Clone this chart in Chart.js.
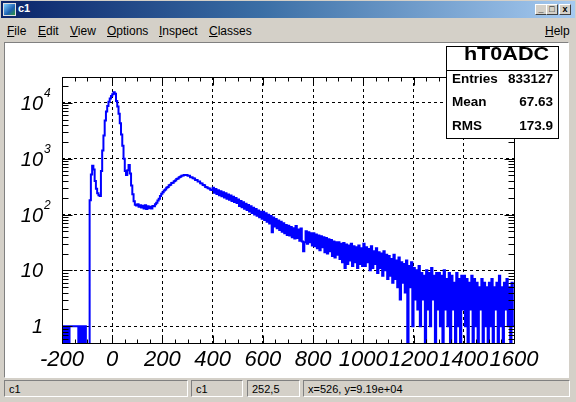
<!DOCTYPE html>
<html><head><meta charset="utf-8">
<script src="https://cdn.jsdelivr.net/npm/chart.js@4.4.0/dist/chart.umd.min.js"></script>
<style>
html,body{margin:0;padding:0;}
body{width:576px;height:402px;background:#d4d0c8;position:relative;overflow:hidden;font-family:'Liberation Sans',Arial,sans-serif;}
.abs{position:absolute;}
#titlebar{left:1px;top:1px;width:574px;height:17px;background:linear-gradient(to right,#0a246a 0%,#3a6ea5 45%,#a6caf0 100%);}
#icon{left:3px;top:3px;width:11px;height:11px;background:linear-gradient(135deg,#7fd0ff,#1c5fb0 60%,#2f9a3a);border:1px solid #e0e0e0;}
#ttext{left:18px;top:3px;color:#fff;font-weight:bold;font-size:11px;line-height:11px;}
.btn{top:4px;width:10px;height:9px;background:#d4d0c8;border-top:1px solid #fff;border-left:1px solid #fff;border-right:1px solid #404040;border-bottom:1px solid #404040;font-size:9px;line-height:9px;text-align:center;font-weight:bold;color:#000;}
.menu{top:25px;font-size:12px;line-height:12px;color:#000;}
#white{left:4px;top:42px;width:563px;height:334px;background:#fff;border-top:1px solid #808080;border-left:1px solid #808080;border-right:1px solid #fff;border-bottom:1px solid #fff;}
.sf{top:380px;height:17px;border-top:1px solid #808080;border-left:1px solid #808080;border-right:1px solid #fff;border-bottom:1px solid #fff;font-size:11px;line-height:17px;padding-left:4px;box-sizing:border-box;color:#000;}
#c{position:absolute;left:0;top:0;}
#stats{left:446px;top:46px;width:111px;height:91px;background:#fff;border:1px solid #000;}
#stats .sep{position:absolute;left:0;top:23px;width:111px;height:1px;background:#000;}
.st{font-weight:bold;font-size:13.5px;line-height:13.5px;color:#000;}
</style>
</head><body>
<div id="titlebar" class="abs"></div>
<div id="icon" class="abs"></div>
<div id="ttext" class="abs">c1</div>
<div class="abs btn" style="left:535px;">_</div>
<div class="abs btn" style="left:546px;">&#9633;</div>
<div class="abs btn" style="left:559px;">x</div>
<div class="abs menu" style="left:7px;"><u>F</u>ile</div>
<div class="abs menu" style="left:38px;"><u>E</u>dit</div>
<div class="abs menu" style="left:70px;"><u>V</u>iew</div>
<div class="abs menu" style="left:107px;"><u>O</u>ptions</div>
<div class="abs menu" style="left:159px;"><u>I</u>nspect</div>
<div class="abs menu" style="left:209px;"><u>C</u>lasses</div>
<div class="abs menu" style="left:545px;"><u>H</u>elp</div>
<div id="white" class="abs"></div>
<div class="abs sf" style="left:4px;width:184px;" id="sf1"></div>
<div class="abs sf" style="left:191px;width:52px;" id="sf2"></div>
<div class="abs sf" style="left:247px;width:53px;" id="sf3"></div>
<div class="abs sf" style="left:303px;width:267px;" id="sf4"></div>
<canvas id="c" width="576" height="402"></canvas>
<div id="stats" class="abs"><div class="sep"></div></div>
<div class="abs" id="stitle" style="left:446px;top:45px;width:120px;text-align:center;font-weight:bold;font-size:18px;line-height:18px;"><span style="display:inline-block;transform:scaleX(1.2);"></span></div>
<script>
// ---- data ----
const xMin = -200, xMax = 1600, binWidth = 5;
const yMin = 0.5, yMax = 29000;
const xTicks = [-200, 0, 200, 400, 600, 800, 1000, 1200, 1400, 1600];
const xTickLabels = ['-200', '0', '200', '400', '600', '800', '1000', '1200', '1400', '1600'];
const yTicks = [1, 10, 100, 1000, 10000];
const statsTitle = 'hT0ADC';
const statsNames = ['Entries', 'Mean', 'RMS'];
const statsValues = ['833127', '67.63', '173.9'];
const statusFields = ['c1', 'c1', '252,5', 'x=526, y=9.19e+04'];

// counts per 5-unit bin, starting at -200
const countsNeg = [1,0,1,0,1,0,1,1,1,1,1,1,1,0,1,0,1,0,1,0,0,0,
  180,520,750,640,400,290,240,222,215,600,1400,2600,4800,7000,8800,10500,12000,13200];
const countsPeak = [14300,15400,14500,10800,8600,6400,4300,2700,1700,1000,600,510,620,770,540,330,230,172,150,145,
  152,138,147,133,144,128,146,126,141,130,137,128,142,140,152,162,178,192,214,236];
const countsHump = [250,268,279,300,312,333,341,368,372,394,405,431,441,466,476,496,502,510,512,508,
  494,492,467,466,446,442,417,414,390,389,363,360,337,334,312,309,294,291,278,276];
const countsTail1 = [300,245,285,232,272,222,262,212,250,202,240,192,228,183,218,175,208,167,198,160,
  185,142,175,135,166,127,156,120,148,113,140,106,132,100,125,95,118,89,112,84,
  112,80,105,74,99,69,94,48,88,61,83,57,78,53,74,49,70,46,65,43,
  63,42,60,39,57,37,62,38,54,34,56,33,22,32,50,30,48,32,46,28];
const countsTail2 = [46,27,44,25,42,23,41,26,39,21,38,20,36,22,35,18,33,17,32,19,
  32,16,30,14,31,11,29,13,28,15,30,12,27,14,26,11,28,13,25,12,
  30,12,26,14,24,10,27,11,22,13,25,9,21,11,20,8,22,10,19,7,
  18,8,16,6,19,7,15,5,17,3,14,6,13,4,15,0,12,5,14,1];
const countsTail3 = [11,3,10,2,12,1,9,3,8,0,10,2,9,1,11,3,8,0,9,2,
  9,1,8,0,10,2,7,1,9,0,8,2,6,0,9,1,7,0,8,2,
  8,1,7,0,6,2,8,0,7,1,6,0,5,2,7,0,6,1,5,0,
  6,1,7,0,5,2,6,0,8,1,5,0,6,2,7,1,5,0,6,1];

const counts = [].concat(countsNeg, countsPeak, countsHump, countsTail1, countsTail2, countsTail3);
const zeroDraw = 0.05; // empty bins drop below the axis floor (clipped)
const histData = counts.map((c, i) => ({x: xMin + i * binWidth, y: c > 0 ? c : zeroDraw}));
histData.push({x: xMax, y: histData[histData.length - 1].y});

// stats box / status text
document.querySelector('#stitle span').textContent = statsTitle;
statsNames.forEach((n, i) => {
  const top = 72 + i * 23.3;
  const a = document.createElement('div');
  a.className = 'abs st'; a.style.left = '452px'; a.style.top = top + 'px'; a.textContent = n;
  const b = document.createElement('div');
  b.className = 'abs st'; b.style.left = '480px'; b.style.width = '73px'; b.style.textAlign = 'right';
  b.style.top = top + 'px'; b.textContent = statsValues[i];
  document.body.appendChild(a); document.body.appendChild(b);
});
statusFields.forEach((t, i) => { document.getElementById('sf' + (i + 1)).textContent = t; });

const FONT = "'Liberation Sans', Arial, sans-serif";

const rootAxes = {
  id: 'rootAxes',
  afterDraw(chart) {
    const {ctx, chartArea: a, scales: {x, y}} = chart;
    const L = Math.round(a.left) + 0.5, R = Math.round(a.right) + 0.5;
    const T = Math.round(a.top) + 0.5, B = Math.round(a.bottom) + 0.5;
    ctx.save();
    ctx.strokeStyle = '#000'; ctx.lineWidth = 1; ctx.setLineDash([]);
    ctx.strokeRect(L, T, R - L, B - T);
    ctx.beginPath();
    for (let v = xMin; v <= xMax; v += 50) {
      const px = Math.round(x.getPixelForValue(v)) + 0.5;
      const len = (Math.abs(v) % 200 === 0) ? 8 : 4;
      ctx.moveTo(px, B); ctx.lineTo(px, B - len);
      ctx.moveTo(px, T); ctx.lineTo(px, T + len);
    }
    for (let d = -1; d <= 4; d++) {
      for (let m = 1; m <= 9; m++) {
        const v = m * Math.pow(10, d);
        if (v < yMin || v > yMax) continue;
        const py = Math.round(y.getPixelForValue(v)) + 0.5;
        const len = m === 1 ? 10 : 6;
        ctx.moveTo(L, py); ctx.lineTo(L + len, py);
        ctx.moveTo(R, py); ctx.lineTo(R - len, py);
      }
    }
    ctx.stroke();
    // y labels with superscript exponents
    ctx.fillStyle = '#000';
    yTicks.forEach(v => {
      const py = y.getPixelForValue(v);
      const e = Math.round(Math.log10(v));
      ctx.font = 'italic 20px ' + FONT;
      ctx.textAlign = 'right'; ctx.textBaseline = 'alphabetic';
      const base = e === 0 ? '1' : '10';
      ctx.fillText(base, 43, py + 7);
      if (e >= 2) {
        ctx.font = 'italic 12px ' + FONT;
        ctx.textAlign = 'left';
        ctx.fillText(String(e), 44, py - 6);
      }
    });
    ctx.restore();
  }
};

new Chart(document.getElementById('c'), {
  type: 'line',
  data: {
    datasets: [{
      data: histData,
      borderColor: '#0000ff',
      borderWidth: 2,
      pointRadius: 0,
      fill: false,
      stepped: 'before',
      clip: 0,
      tension: 0
    }]
  },
  options: {
    responsive: false,
    animation: false,
    events: [],
    layout: {padding: {left: 62, top: 77, right: 62, bottom: 19}},
    plugins: {legend: {display: false}, tooltip: {enabled: false}},
    scales: {
      x: {
        type: 'linear', min: xMin, max: xMax,
        afterBuildTicks: s => { s.ticks = xTicks.map(v => ({value: v})); },
        afterFit: s => { s.height = 40; },
        grid: {color: '#000', lineWidth: 1, drawTicks: false},
        border: {display: false, dash: [3, 3]},
        ticks: {
          autoSkip: false, maxRotation: 0, minRotation: 0, padding: 4, color: '#000',
          font: {family: FONT, size: 22, style: 'italic'},
          callback: (v) => xTickLabels[xTicks.indexOf(v)]
        }
      },
      y: {
        type: 'logarithmic', min: yMin, max: yMax,
        afterBuildTicks: s => { s.ticks = yTicks.map(v => ({value: v})); },
        afterFit: s => { s.width = 0; },
        grid: {color: '#000', lineWidth: 1, drawTicks: false},
        border: {display: false, dash: [3, 3]},
        ticks: {display: false}
      }
    }
  },
  plugins: [rootAxes]
});
</script>
</body></html>
